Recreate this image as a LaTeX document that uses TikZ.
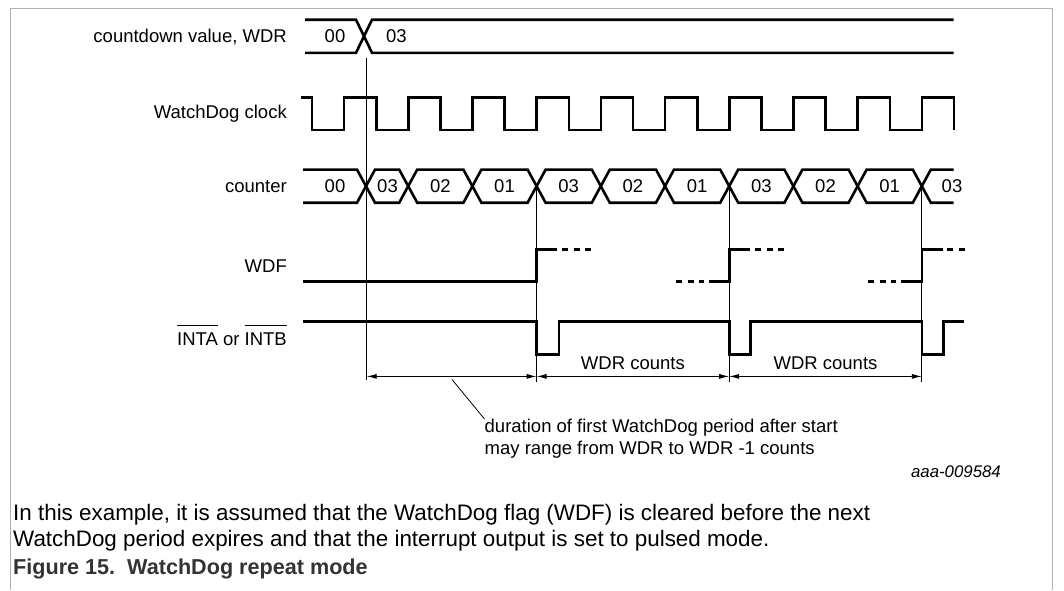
\documentclass[tikz,border=0pt]{standalone}
\usepackage{fontspec}
\setmainfont{Liberation Sans}
\usetikzlibrary{arrows.meta}
\newcommand\ovl[1]{\setbox0\hbox{#1}\rlap{\rule[\dimexpr\ht0+6pt\relax]{\wd0}{1pt}}\box0\relax}
\begin{document}
\begin{tikzpicture}[x=1pt,y=-1pt,
  wave/.style={line width=2.6pt, line join=miter, line cap=butt},
  wdash/.style={wave, dash pattern=on 6pt off 5.5pt},
  marker/.style={line width=0.9pt},
  dimline/.style={line width=0.9pt, {Latex[length=10pt,width=5pt]}-{Latex[length=10pt,width=5pt]}},
  sig/.style={font=\fontsize{18.5}{22}\selectfont, inner sep=0pt, anchor=base east},
  val/.style={font=\fontsize{18.5}{22}\selectfont, inner sep=0pt},
  body/.style={font=\fontsize{22.4}{26}\selectfont, inner sep=0pt, anchor=base west},
  frame/.style={line width=1.2pt, draw=black!30},
]
\useasboundingbox (0,0) rectangle (1064,590);
% frame
\draw[frame] (10.3,590) -- (10.3,8.3) -- (1052.6,8.3) -- (1052.6,590);

% signal labels
\node[sig] (lwdr) at (287,42.6) {countdown value, WDR};
\node[sig] (lclk) at (287,118.6) {WatchDog clock};
\node[sig] (lcnt) at (287,192) {counter};
\node[sig] (lwdf) at (287,272) {WDF};
\node[sig] (lint) at (287,345.2) {\ovl{INTA} or \ovl{INTB}};

% marker lines
\coordinate (s0) at (366.7,57.8);
\coordinate (s0b) at (366.7,379.5);
\coordinate (e1) at (536.6,186);
\coordinate (e1b) at (536.6,381.5);
\coordinate (e2) at (729.2,186);
\coordinate (e2b) at (729.2,381.5);
\coordinate (e3) at (921.8,186);
\coordinate (e3b) at (921.8,381.5);
\draw[marker] (s0) -- (s0b);
\draw[marker] (e1) -- (e1b);
\draw[marker] (e2) -- (e2b);
\draw[marker] (e3) -- (e3b);

% countdown value bus
\draw[wave] (305,19.7) -- (356,19.7) -- (372,52.8) -- (953.7,52.8);
\draw[wave] (305,52.8) -- (356,52.8) -- (372,19.7) -- (953.7,19.7);
\node[val] (cd0) at (335,36.3) {00};
\node[val,anchor=west] (cd1) at (386,36.3) {03};

% WatchDog clock
\draw[wave] (301,97.5) foreach \k in {0,...,9} {
  -- ({312+64.2*\k},97.5) -- ({312+64.2*\k},130) -- ({344+64.2*\k},130) -- ({344+64.2*\k},97.5)
} -- (954,97.5) -- (954,130);

% counter bus
\def\T{169.6}\def\B{202.7}
\draw[wave] (303,\T) -- (357,\T) -- (375,\B) -- (399.2,\B) -- (417.2,\T) -- (463.4,\T) -- (481.4,\B)
  -- (527.6,\B) -- (545.6,\T) -- (591.8,\T) -- (609.8,\B) -- (656,\B) -- (674,\T) -- (720.2,\T)
  -- (738.2,\B) -- (784.4,\B) -- (802.4,\T) -- (848.6,\T) -- (866.6,\B) -- (912.8,\B) -- (930.8,\T) -- (953.7,\T);
\draw[wave] (303,\B) -- (357,\B) -- (375,\T) -- (399.2,\T) -- (417.2,\B) -- (463.4,\B) -- (481.4,\T)
  -- (527.6,\T) -- (545.6,\B) -- (591.8,\B) -- (609.8,\T) -- (656,\T) -- (674,\B) -- (720.2,\B)
  -- (738.2,\T) -- (784.4,\T) -- (802.4,\B) -- (848.6,\B) -- (866.6,\T) -- (912.8,\T) -- (930.8,\B) -- (953.7,\B);
\node[val] (c0) at (335,186.2) {00};
\node[val] (c1) at (387.5,186.2) {03};
\node[val] (c2) at (440.3,186.2) {02};
\node[val] (c3) at (504.5,186.2) {01};
\node[val] (c4) at (568.7,186.2) {03};
\node[val] (c5) at (632.9,186.2) {02};
\node[val] (c6) at (697.1,186.2) {01};
\node[val] (c7) at (761.3,186.2) {03};
\node[val] (c8) at (825.5,186.2) {02};
\node[val] (c9) at (889.7,186.2) {01};
\node[val] (c10) at (952,186.2) {03};

% WDF
\draw[wave] (303,281.5) -- (536.6,281.5) -- (536.6,249.6) -- (557,249.6);
\draw[wdash] (562,249.6) -- (592,249.6);
\draw[wdash] (676,281.5) -- (704,281.5);
\draw[wave] (709,281.5) -- (729.2,281.5) -- (729.2,249.6) -- (750,249.6);
\draw[wdash] (755,249.6) -- (785,249.6);
\draw[wdash] (868,281.5) -- (896,281.5);
\draw[wave] (901,281.5) -- (921.8,281.5) -- (921.8,249.6) -- (943,249.6);
\draw[wdash] (947,249.6) -- (965,249.6);

% INTA / INTB
\draw[wave] (303,321.3) -- (536.6,321.3) -- (536.6,354.5) -- (559,354.5) -- (559,321.3)
  -- (729.2,321.3) -- (729.2,354.5) -- (750.7,354.5) -- (750.7,321.3)
  -- (921.8,321.3) -- (921.8,354.5) -- (943.3,354.5) -- (943.3,321.3) -- (964,321.3);

% dimension arrows
\coordinate (d0) at (366.7,376.4);
\coordinate (d1) at (536.6,376.4);
\coordinate (d2) at (729.2,376.4);
\coordinate (d3) at (921.8,376.4);
\draw[dimline] (d0) -- (d1);
\draw[dimline] (d1) -- (d2);
\draw[dimline] (d2) -- (d3);
\node[val] (w1) at (632.9,363.5) {WDR counts};
\node[val] (w2) at (825.5,363.5) {WDR counts};

% note
\node[val,anchor=base west] (dur1) at (484.5,432.6) {duration of first WatchDog period after start};
\node[val,anchor=base west] (dur2) at (484.5,454) {may range from WDR to WDR -1 counts};
\coordinate (ld) at (452,379.5);
\draw[line width=0.8pt] (ld) -- (dur1.north west);

% bottom texts
\node[font=\itshape\fontsize{16.8}{20}\selectfont, inner sep=0pt, anchor=base east] (ref) at (1001,477.8) {aaa-009584};
\node[body] (p1) at (13,520) {In this example, it is assumed that the WatchDog flag (WDF) is cleared before the next};
\node[body] (p2) at (13,546.5) {WatchDog period expires and that the interrupt output is set to pulsed mode.};
\node[body, font=\bfseries\fontsize{21.6}{25}\selectfont, text=black!80] (cap) at (13,574.7) {Figure 15.\ \ WatchDog repeat mode};
\end{tikzpicture}
\end{document}
